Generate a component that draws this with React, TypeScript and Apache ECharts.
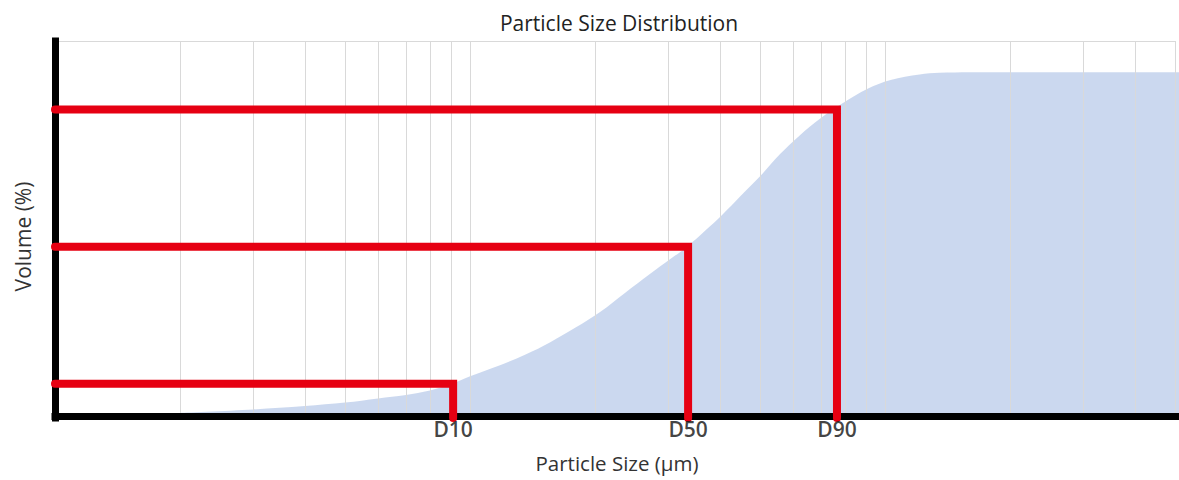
import React, { useEffect, useRef } from "react";
import * as echarts from "echarts";

// Cumulative particle size distribution (size in µm, volume in %)
const sizes = [0.2, 0.3, 0.4, 0.5, 0.6, 0.7, 0.8, 0.9, 1.0, 1.18, 1.36, 1.56, 1.79, 2.06, 2.36, 2.71, 3.03, 3.35, 3.68, 4.05, 4.47, 5.0, 5.58, 6.23, 6.96, 7.91, 9.04, 10.3, 12.1, 13.5, 16, 51];
const volumes = [1.5, 2.5, 3.5, 4.5, 5.7, 6.7, 8.0, 9.9, 12.2, 15.4, 18.5, 22.1, 26.3, 31.0, 36.5, 42.0, 46.3, 50.2, 54.6, 59.3, 64.6, 70.6, 77.0, 82.5, 87.3, 91.9, 96.0, 98.6, 100.2, 100.7, 100.9, 100.9];

// Percentile markers
const dLabels = ["D10", "D50", "D90"];
const dSizes = [0.91, 3.35, 7.65];
const dValues = [10, 50, 90];

// Log grid lines
const gridSizes = [0.2, 0.3, 0.4, 0.5, 0.6, 0.7, 0.8, 0.9, 1, 2, 3, 4, 5, 6, 7, 8, 9, 10, 20, 30, 40, 50];

const X_MIN = 0.1;
const X_MAX = 51;
const Y_MIN = 0;
const Y_MAX = 110;
const GRID_END = 50;

const FONT = "'Open Sans', 'Noto Sans', sans-serif";

export default function App() {
  const ref = useRef<HTMLDivElement>(null);

  useEffect(() => {
    if (!ref.current) return;
    const chart = echarts.init(ref.current, undefined, { renderer: "svg" });

    const redSeries = dLabels.map((label, i) => ({
      type: "line",
      name: label,
      z: 20,
      silent: true,
      symbol: "none",
      clip: false,
      lineStyle: { color: "#E60012", width: 8, cap: "round", join: "miter" },
      data: [
        [X_MIN, dValues[i]],
        [dSizes[i], dValues[i]],
        [dSizes[i], Y_MIN],
      ],
    }));

    const option: any = {
      animation: false,
      title: {
        text: "Particle Size Distribution",
        left: 614,
        top: 7,
        textAlign: "center",
        textStyle: { fontFamily: FONT, fontSize: 21, fontWeight: "normal", color: "#222" },
      },
      grid: { left: 55, right: 0, top: 41, bottom: 62 },
      xAxis: {
        type: "log",
        logBase: 10,
        min: X_MIN,
        max: X_MAX,
        z: 10,
        offset: -2,
        name: "Particle Size (µm)",
        nameLocation: "middle",
        nameGap: 36,
        nameTextStyle: { fontFamily: FONT, fontSize: 20.5, color: "#333" },
        axisLine: { show: true, lineStyle: { color: "#000", width: 7, cap: "square" } },
        axisTick: { show: false },
        axisLabel: { show: false },
        splitLine: { show: false },
        minorSplitLine: { show: false },
      },
      yAxis: {
        type: "value",
        min: Y_MIN,
        max: Y_MAX,
        z: 10,
        name: "Volume (%)",
        nameLocation: "middle",
        nameGap: 22,
        nameTextStyle: { fontFamily: FONT, fontSize: 21, color: "#333", padding: [0, 14, 0, 0] },
        axisLine: { show: true, lineStyle: { color: "#000", width: 7, cap: "square" } },
        axisTick: { show: false },
        axisLabel: { show: false },
        splitLine: { show: false },
      },
      series: [
        {
          type: "line",
          z: 1,
          silent: true,
          symbol: "none",
          lineStyle: { width: 0, opacity: 0 },
          data: [[X_MIN, Y_MIN]],
          markLine: {
            silent: true,
            symbol: "none",
            label: { show: false },
            lineStyle: { color: "#d9d9d9", width: 1, type: "solid" },
            data: [
              ...gridSizes.map((v) => ({ xAxis: v })),
              [{ coord: [X_MIN, Y_MAX] }, { coord: [GRID_END, Y_MAX] }],
            ],
          },
        },
        {
          type: "line",
          z: 2,
          silent: true,
          symbol: "none",
          smooth: 0.35,
          lineStyle: { width: 0 },
          areaStyle: { color: "rgba(68,114,196,0.28)", opacity: 1 },
          data: sizes.map((s, i) => [s, volumes[i]]),
        },
        ...redSeries,
        {
          type: "scatter",
          z: 20,
          silent: true,
          symbolSize: 0,
          clip: false,
          label: {
            show: true,
            position: "bottom",
            distance: 0,
            formatter: (p: any) => p.name,
            fontFamily: FONT,
            fontSize: 21,
            fontWeight: 600,
            color: "#111",
          },
          data: dLabels.map((l, i) => ({ name: l, value: [dSizes[i], Y_MIN] })),
        },
      ],
    };

    chart.setOption(option);
    return () => chart.dispose();
  }, []);

  return (
    <div
      ref={ref}
      style={{ position: "absolute", left: 0, top: 0, width: 1179, height: 480 }}
    />
  );
}
